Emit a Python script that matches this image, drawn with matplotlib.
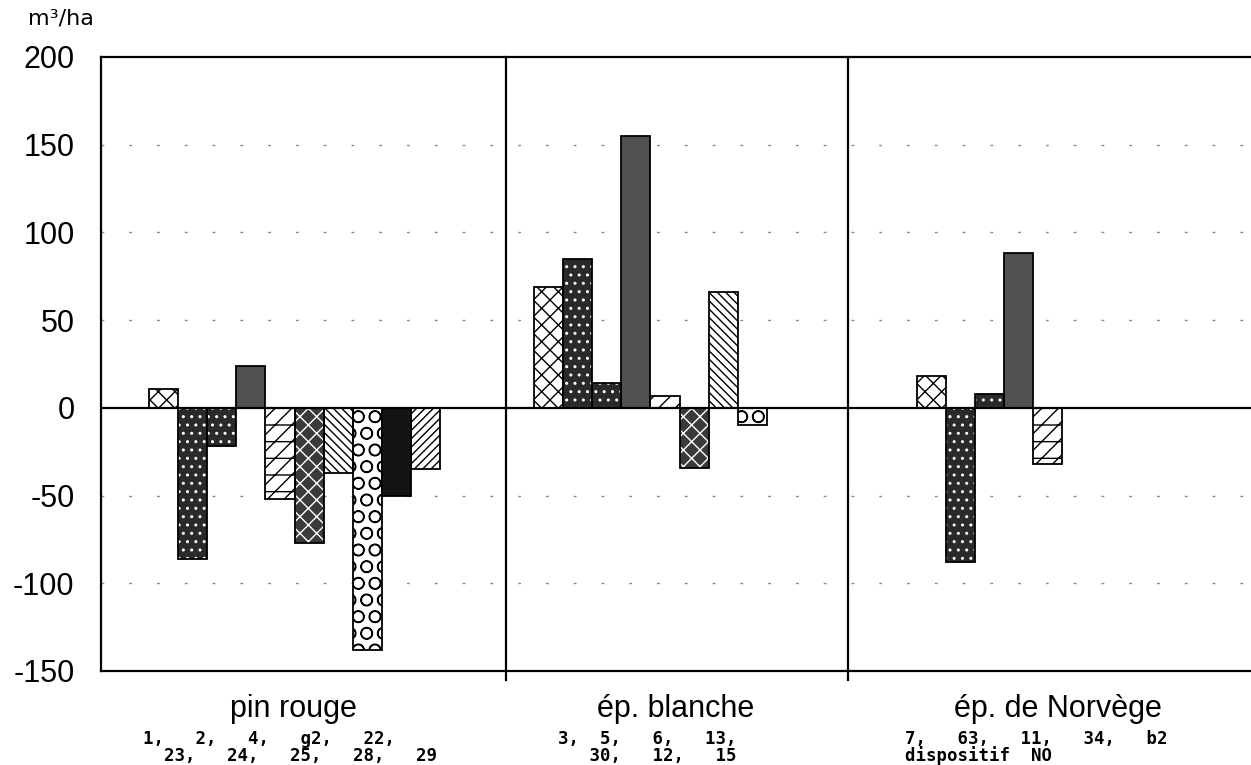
import matplotlib
matplotlib.use("Agg")
import matplotlib.pyplot as plt

# valeurs (m3/ha)
groupes = ["pin rouge", "ép. blanche", "ép. de Norvège"]
pin_rouge = [11, -86, -22, 24, -52, -77, -37, -138, -50, -35]
ep_blanche = [69, 85, 14, 155, 7, -34, 66, -10]
ep_norvege = [18, -88, 8, 88, -32]
dispositifs = [
    ["1,   2,   4,   g2,   22,", "  23,   24,   25,   28,   29"],
    ["3,  5,   6,   13,", "   30,   12,   15"],
    ["7,   63,   11,   34,   b2", "dispositif  NO"],
]
yticks = [200, 150, 100, 50, 0, -50, -100, -150]

# motifs : (fond, couleur du motif, hachure)
motifs = [
    ("white", "black", "xx"),
    ("#2a2a2a", "white", ".."),
    ("#2a2a2a", "white", ".."),
    ("#505050", "#505050", None),
    ("white", "black", "//-"),
    ("#3a3a3a", "white", "xx"),
    ("white", "black", "\\\\\\\\"),
    ("white", "black", "O"),
    ("#141414", "#141414", None),
    ("white", "black", "////"),
]

W, H = 1251, 765
fig = plt.figure(figsize=(W / 100, H / 100), dpi=100)
ax = fig.add_axes([101 / W, (H - 671) / H, 1150 / W, 614 / H])
plt.rcParams["hatch.linewidth"] = 1.0

# une unité = largeur d'une barre (~29 px)
debut = [1.65, 14.88, 28.04]
separations = [13.92, 25.67]
series = [pin_rouge, ep_blanche, ep_norvege]

for g, vals in enumerate(series):
    for i, v in enumerate(vals):
        fc, hc, hatch = motifs[i]
        x = debut[g] + i
        ax.bar(x, v, width=1.0, align="edge", color=fc, edgecolor=hc,
               hatch=hatch, linewidth=0, zorder=3)
        ax.bar(x, v, width=1.0, align="edge", fill=False, edgecolor="black",
               linewidth=1.3, zorder=4)

ax.set_xlim(0, 1150 / 29.1)
ax.set_ylim(-150, 200)
ax.set_yticks(yticks)
ax.set_yticklabels([str(t) for t in yticks], fontsize=22, family="Liberation Sans")
ax.tick_params(axis="y", length=0, pad=19)
ax.set_xticks([])

for y in [150, 100, 50, -50, -100]:
    ax.axhline(y, color="#8a8a8a", linewidth=1.0, linestyle=(0, (2, 18)), zorder=1)
ax.axhline(0, color="black", linewidth=1.6, zorder=5)
for xs in separations:
    ax.axvline(xs, ymin=-0.014, ymax=1, color="black", linewidth=1.6,
               clip_on=False, zorder=5)

for s in ["left", "top", "bottom"]:
    ax.spines[s].set_linewidth(1.6)
ax.spines["right"].set_visible(False)

# étiquettes des groupes
centres = [293, 676, 1058]
for nom, cx in zip(groupes, centres):
    fig.text(cx / W, (H - 717) / H, nom, ha="center", va="baseline",
             fontsize=22, family="Liberation Sans")

gauches = [143, 558, 905]
for lignes, lx in zip(dispositifs, gauches):
    fig.text(lx / W, (H - 744) / H, lignes[0], ha="left", va="baseline",
             fontsize=12.5, family="DejaVu Sans Mono", weight="bold")
    fig.text(lx / W, (H - 761) / H, lignes[1], ha="left", va="baseline",
             fontsize=12.5, family="DejaVu Sans Mono", weight="bold")

fig.text(28 / W, (H - 25) / H, "m³/ha", ha="left", va="baseline",
         fontsize=16, family="DejaVu Sans")

fig.savefig("out.png", dpi=100, facecolor="white")
